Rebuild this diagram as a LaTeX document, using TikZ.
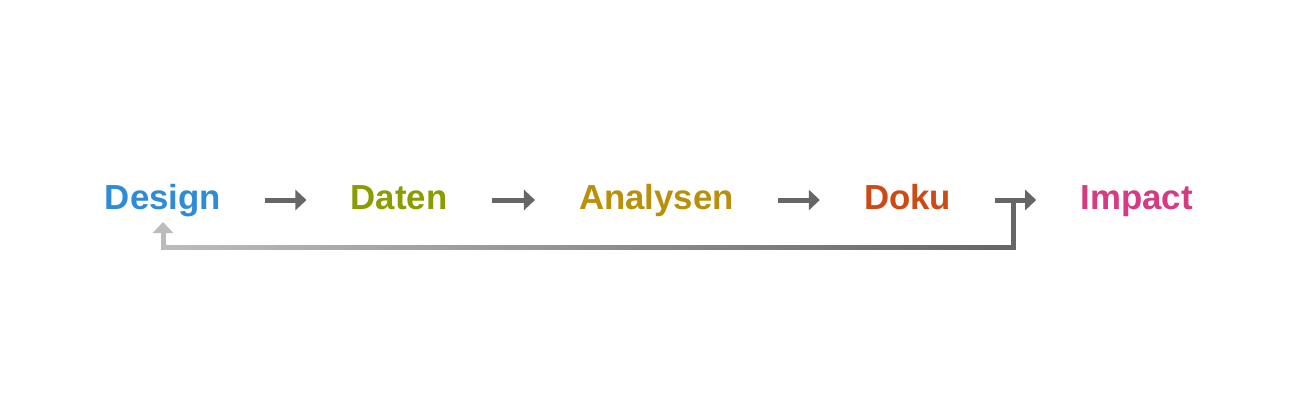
\documentclass[tikz,border=0pt]{standalone}
\usepackage{fontspec}
\setmainfont{Liberation Sans}
\usetikzlibrary{arrows.meta,calc}
\definecolor{cdesign}{HTML}{2E8BD6}
\definecolor{cdaten}{HTML}{8A9C00}
\definecolor{canal}{HTML}{B8900A}
\definecolor{cdoku}{HTML}{CC4A16}
\definecolor{cimpact}{HTML}{D63A82}
\definecolor{fbdark}{HTML}{666666}
\definecolor{fblight}{HTML}{BBBBBB}
\tikzset{
  label/.style={inner sep=0pt, anchor=base, font=\fontsize{34.8}{40}\selectfont\bfseries},
  arr/.style={line width=5pt, color=fbdark, -{Triangle[length=11pt,width=20pt]}},
}
\begin{document}
\begin{tikzpicture}[x=1pt,y=-1pt]
\useasboundingbox (0,0) rectangle (1300,400);
\node[label, text=cdesign] (design) at (163,209) {Design};
\node[label, text=cdaten] (daten) at (399,209) {Daten};
\node[label, text=canal] (analysen) at (656.5,209) {Analysen};
\node[label, text=cdoku] (doku) at (907.5,209) {Doku};
\node[label, text=cimpact] (impact) at (1136.5,209) {Impact};
\draw[arr] ($(design.base east)+(44,-9)$) -- ($(daten.base west)+(-44,-9)$);
\draw[arr] ($(daten.base east)+(44,-9)$) -- ($(analysen.base west)+(-44,-9)$);
\draw[arr] ($(analysen.base east)+(44,-9)$) -- ($(doku.base west)+(-44,-9)$);
\draw[arr] ($(doku.base east)+(44,-9)$) -- ($(impact.base west)+(-44,-9)$);
\coordinate (fb) at ($(doku.base east)+(62,-9)$);
\coordinate (br) at ($(fb)+(0,47)$);
\coordinate (bl) at (design.base |- br);
\coordinate (tip) at ($(design.base)+(0,13)$);
\foreach \i in {0,...,59}{
  \pgfmathsetmacro{\p}{100*\i/59}
  \pgfmathsetmacro{\e}{min((\i+1.4)/60,1)}
  \draw[line width=5pt, color=fbdark!\p!fblight]
    ($(bl)!{\i/60}!(br)$) -- ($(bl)!{\e}!(br)$);
}
\draw[line width=5pt, color=fbdark, line cap=rect] (fb) -- (br);
\draw[line width=5pt, color=fblight, line cap=rect, {}-{Triangle[length=11pt,width=20pt]}] (bl) -- (tip);
\end{tikzpicture}
\end{document}
